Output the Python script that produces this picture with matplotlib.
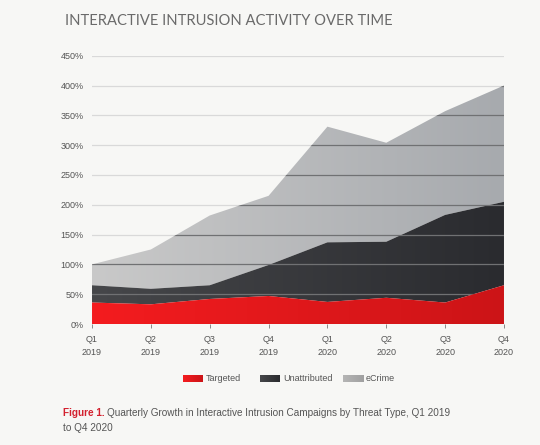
import matplotlib.pyplot as plt
import numpy as np
from matplotlib.colors import LinearSegmentedColormap

quarters = ['Q1\n2019', 'Q2\n2019', 'Q3\n2019', 'Q4\n2019',
            'Q1\n2020', 'Q2\n2020', 'Q3\n2020', 'Q4\n2020']
# cumulative tops of each stacked band (%)
targeted = [36, 33, 42, 47, 37, 44, 36, 65]
unattributed_top = [65, 59, 65, 99, 137, 138, 183, 205]
ecrime_top = [100, 125, 182, 215, 331, 304, 357, 400]
yticks = [0, 50, 100, 150, 200, 250, 300, 350, 400, 450]

bg = '#f7f7f5'
fig = plt.figure(figsize=(5.4, 4.45), dpi=100, facecolor=bg)
ax = fig.add_axes([0.1704, 0.2719, 0.7629, 0.6029], facecolor=bg)

x = np.arange(len(quarters))
ax.set_xlim(0, 7)
ax.set_ylim(0, 450)

# light gridlines behind everything
for v in yticks[1:]:
    ax.axhline(v, color='#d9d9d9', lw=0.9, zorder=0)


def grad_fill(lo, hi, c1, c2, z):
    poly = ax.fill_between(x, lo, hi, color='none', lw=0, zorder=z)
    cmap = LinearSegmentedColormap.from_list('g', [c1, c2])
    grad = np.linspace(0, 1, 256).reshape(1, -1)
    im = ax.imshow(grad, cmap=cmap, extent=[0, 7, 0, 450], aspect='auto',
                   zorder=z, interpolation='bicubic')
    im.set_clip_path(poly.get_paths()[0], transform=ax.transData)
    return poly


zeros = [0] * len(x)
grad_fill(unattributed_top, ecrime_top, '#c9c9c9', '#a7aaae', 1)
grad_fill(targeted, unattributed_top, '#46474a', '#2a2b2f', 2)
total = ax.fill_between(x, zeros, ecrime_top, color='none', lw=0, zorder=1)

# darker gridlines over the filled area
for v in yticks[1:]:
    ln = ax.axhline(v, color='#707173', lw=0.9, zorder=2.5)
    ln.set_clip_path(total.get_paths()[0], transform=ax.transData)

grad_fill(zeros, targeted, '#f41c1f', '#cc1417', 3)

for s in ax.spines.values():
    s.set_visible(False)

tick_font = dict(family='Liberation Sans', size=6.5, color='#555555')
ax.set_yticks(yticks)
ax.set_yticklabels([f'{v}%' for v in yticks], **tick_font)
ax.tick_params(axis='y', length=0, pad=6)
ax.set_xticks(x)
ax.set_xticklabels(quarters, linespacing=1.5, **tick_font)
ax.tick_params(axis='x', length=3, width=0.6, color='#777777', pad=5)

fig.text(65 / 540, 1 - 21 / 445, 'INTERACTIVE INTRUSION ACTIVITY OVER TIME',
         family='Lato', fontweight='normal', fontsize=10.6, color='#6a6a6a',
         va='center', ha='left')

# legend with gradient swatches
legend_items = [('Targeted', '#f41c1f', '#cc1417', 183),
                ('Unattributed', '#46474a', '#2a2b2f', 260),
                ('eCrime', '#b5b5b5', '#a0a0a0', 343)]
for label, c1, c2, px in legend_items:
    lax = fig.add_axes([px / 540, 1 - 382 / 445, 20 / 540, 7 / 445])
    lax.imshow(np.linspace(0, 1, 64).reshape(1, -1), aspect='auto',
               cmap=LinearSegmentedColormap.from_list('l', [c1, c2]))
    lax.axis('off')
    fig.text((px + 23) / 540, 1 - 378.5 / 445, label, family='Liberation Sans',
             size=6.5, color='#555555', va='center', ha='left')

fig_lbl = fig.text(63 / 540, 1 - 413 / 445, 'Figure 1.', family='Liberation Sans',
                   fontweight='bold', size=7.2, color='#d3202e', va='center')
fig.canvas.draw()
bb = fig_lbl.get_window_extent()
fig.text(bb.x1 / 540 + 2.5 / 540, 1 - 413 / 445,
         'Quarterly Growth in Interactive Intrusion Campaigns by Threat Type, Q1 2019',
         family='Liberation Sans', size=7.2, color='#555555', va='center')
fig.text(63 / 540, 1 - 428 / 445, 'to Q4 2020', family='Liberation Sans',
         size=7.2, color='#555555', va='center')

fig.savefig('out.png', dpi=100, facecolor=bg)
